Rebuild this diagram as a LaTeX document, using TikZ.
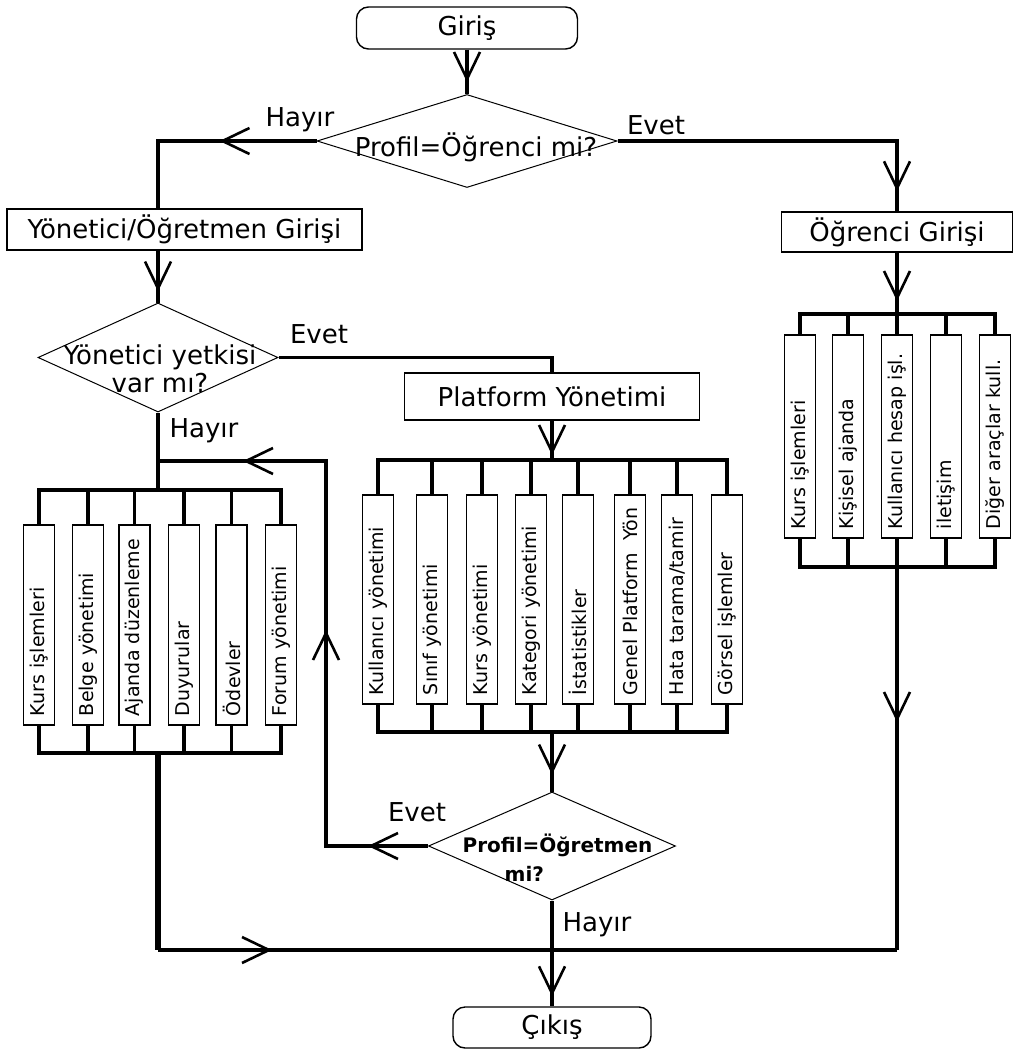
\documentclass[tikz,border=0pt]{standalone}
\usepackage{fontspec}
\setmainfont{DejaVu Sans}
\usetikzlibrary{arrows.meta,shapes.geometric,decorations.markings}

\tikzset{
	box/.style={draw, line width=1.4pt, inner sep=0pt, font=\fontsize{26}{28}\selectfont},
	term/.style={box, rounded corners=12pt, minimum width=221pt, minimum height=42pt},
	proc/.style={box, minimum height=41pt},
	dec/.style={draw, diamond, line width=1pt, inner sep=0pt},
	dectext/.style={align=center, inner sep=0pt, font=\fontsize{26}{28}\selectfont},
	lbl/.style={inner sep=0pt, font=\fontsize{26}{28}\selectfont},
	modbox/.style={draw, line width=1.4pt, rotate=90, minimum height=31pt, inner xsep=9pt, inner ysep=0pt, text width=#1, align=left, font=\fontsize{19}{22}\selectfont},
	flow/.style={line width=3.2pt},
	thickflow/.style={line width=6pt},
	tipat/.style={postaction={decorate, decoration={markings, mark=at position #1 with {\arrow{Straight Barb[length=27pt, width=26pt, line width=2.6pt]}}}}},
}

\begin{document}
\begin{tikzpicture}[x=10pt, y=-10pt]
		%%%%% START %%%%%
		\useasboundingbox (0, 0) rectangle (101.3, 105.0);
		
		\node[term] (giris) at (46.7, 2.8) {Giriş};
		\node[dec, minimum width=300pt, minimum height=93pt] (profil) at (46.7, 14.1) {};
		\node[dectext] (profilT) at (47.6, 14.7) {Profil=Öğrenci mi?};
		\node[lbl] (hayir1) at (30.0, 12.0) {Hayır};
		\node[lbl] (evet1) at (65.6, 12.5) {Evet};
		
		\node[proc, minimum width=355pt] (yonogr) at (18.45, 22.95) {Yönetici/Öğretmen Girişi};
		\node[proc, minimum width=231pt, minimum height=40pt] (ogrgir) at (89.7, 23.2) {Öğrenci Girişi};
		
		\node[dec, minimum width=240pt, minimum height=109pt] (yetki) at (15.8, 35.75) {};
		\node[dectext] (yetkiT) at (16.0, 36.9) {Yönetici yetkisi\\var mı?};
		\node[lbl] (evet2) at (31.9, 33.4) {Evet};
		\node[lbl] (hayir2) at (20.4, 43.1) {Hayır};
		
		\node[proc, minimum width=295pt, minimum height=47pt] (platform) at (55.2, 39.65) {Platform Yönetimi};
		
		\coordinate (loopj) at (15.8, 46.1);
		\coordinate (loopc) at (32.6, 46.1);
		\coordinate (lbus) at (15.8, 49.0);
		\coordinate (lbot) at (15.8, 75.3);
		\coordinate (pbus) at (55.2, 46.0);
		\coordinate (pbot) at (55.2, 73.2);
		\coordinate (obus) at (89.7, 31.4);
		\coordinate (rbot) at (89.7, 56.7);
		\coordinate (lend) at (15.8, 95.0);
		\coordinate (rend) at (89.7, 95.0);
		
		% teacher modules
		\node[modbox=182pt] (l1) at (3.9, 62.5) {Kurs işlemleri};
		\node[modbox=182pt] (l2) at (8.8, 62.5) {Belge yönetimi};
		\node[modbox=182pt] (l3) at (13.45, 62.5) {Ajanda düzenleme};
		\node[modbox=182pt] (l4) at (18.4, 62.5) {Duyurular};
		\node[modbox=182pt] (l5) at (23.15, 62.5) {Ödevler};
		\node[modbox=182pt] (l6) at (28.1, 62.5) {Forum yönetimi};
		
		% platform modules
		\node[modbox=191pt] (p1) at (37.8, 59.95) {Kullanıcı yönetimi};
		\node[modbox=191pt] (p2) at (43.2, 59.95) {Sınıf yönetimi};
		\node[modbox=191pt] (p3) at (48.2, 59.95) {Kurs yönetimi};
		\node[modbox=191pt] (p4) at (53.1, 59.95) {Kategori yönetimi};
		\node[modbox=191pt] (p5) at (57.8, 59.95) {İstatistikler};
		\node[modbox=191pt] (p6) at (63.0, 59.95) {Genel Platform~ Yön};
		\node[modbox=191pt] (p7) at (67.7, 59.95) {Hata tarama/tamir};
		\node[modbox=191pt] (p8) at (72.7, 59.95) {Görsel işlemler};
		
		% student modules
		\node[modbox=185pt] (o1) at (80.0, 43.65) {Kurs işlemleri};
		\node[modbox=185pt] (o2) at (84.8, 43.65) {Kişisel ajanda};
		\node[modbox=185pt] (o3) at (89.7, 43.65) {Kullanıcı hesap işl.};
		\node[modbox=185pt] (o4) at (94.6, 43.65) {iletişim};
		\node[modbox=185pt] (o5) at (99.5, 43.65) {Diğer araçlar kull.};
		
		\node[dec, minimum width=247pt, minimum height=108pt] (kontrol) at (55.2, 84.6) {};
		\node[dectext, align=left, font=\fontsize{20}{29}\selectfont\bfseries] (kontrolT) at (55.75, 85.75) {Profil=Öğretmen\\\hspace*{42pt}mi?};
		\node[lbl] (evet3) at (41.7, 81.2) {Evet};
		\node[lbl] (hayir3) at (59.7, 92.5) {Hayır};
		
		\node[term, minimum width=198pt, minimum height=41pt] (cikis) at (55.2, 102.75) {Çıkış};
		
		% connectors
		\draw[flow, tipat=-12pt] (giris.south) -- (profil.north);
		\draw[flow, tipat=97pt] (profil.west) -| (yonogr.north -| yetki.north);
		\draw[flow, tipat=-20pt] (profil.east) -| (ogrgir.north);
		\draw[flow, tipat=-11pt] (yonogr.south -| yetki.north) -- (yetki.north);
		\draw[flow, tipat=-13pt] (ogrgir.south) -- (obus);
		\draw[flow] (yetki.east) -| (platform.north);
		\draw[flow] (yetki.south) -- (loopj) -- (lbus);
		\draw[flow, tipat=-5pt] (platform.south) -- (pbus);
		
		\draw[flow] (l1.east) |- (lbus) -| (l6.east);
		\draw[flow] (l1.west) |- (lbot) -| (l6.west);
		\draw[flow] (l2.east) -- (l2.east |- lbus) (l2.west) -- (l2.west |- lbot);
		\draw[flow] (l3.east) -- (l3.east |- lbus) (l3.west) -- (l3.west |- lbot);
		\draw[flow] (l4.east) -- (l4.east |- lbus) (l4.west) -- (l4.west |- lbot);
		\draw[flow] (l5.east) -- (l5.east |- lbus) (l5.west) -- (l5.west |- lbot);
		
		\draw[flow] (p1.east) |- (pbus) -| (p8.east);
		\draw[flow] (p1.west) |- (pbot) -| (p8.west);
		\draw[flow] (p2.east) -- (p2.east |- pbus) (p2.west) -- (p2.west |- pbot);
		\draw[flow] (p3.east) -- (p3.east |- pbus) (p3.west) -- (p3.west |- pbot);
		\draw[flow] (p4.east) -- (p4.east |- pbus) (p4.west) -- (p4.west |- pbot);
		\draw[flow] (p5.east) -- (p5.east |- pbus) (p5.west) -- (p5.west |- pbot);
		\draw[flow] (p6.east) -- (p6.east |- pbus) (p6.west) -- (p6.west |- pbot);
		\draw[flow] (p7.east) -- (p7.east |- pbus) (p7.west) -- (p7.west |- pbot);
		
		\draw[flow] (o1.east) |- (obus) -| (o5.east);
		\draw[flow] (o1.west) |- (rbot) -| (o5.west);
		\draw[flow] (o2.east) -- (o2.east |- obus) (o2.west) -- (o2.west |- rbot);
		\draw[flow] (o3.east) -- (o3.east |- obus) (o3.west) -- (o3.west |- rbot);
		\draw[flow] (o4.east) -- (o4.east |- obus) (o4.west) -- (o4.west |- rbot);
		
		\draw[flow, tipat=-17pt] (pbot) -- (kontrol.north);
		\draw[flow, tipat=60pt, tipat=318pt, tipat=570pt] (kontrol.west) -| (loopc) -- (loopj);
		\draw[flow, tipat=-10pt] (kontrol.south) -- (cikis.north);
		
		\draw[thickflow] (lbot) -- (lend);
		\draw[flow, tipat=114pt] (lend) -- (rend);
		\draw[flow, tipat=155pt] (rbot) -- (rend);
		
		%%%%% END %%%%%
\end{tikzpicture}
\end{document}
